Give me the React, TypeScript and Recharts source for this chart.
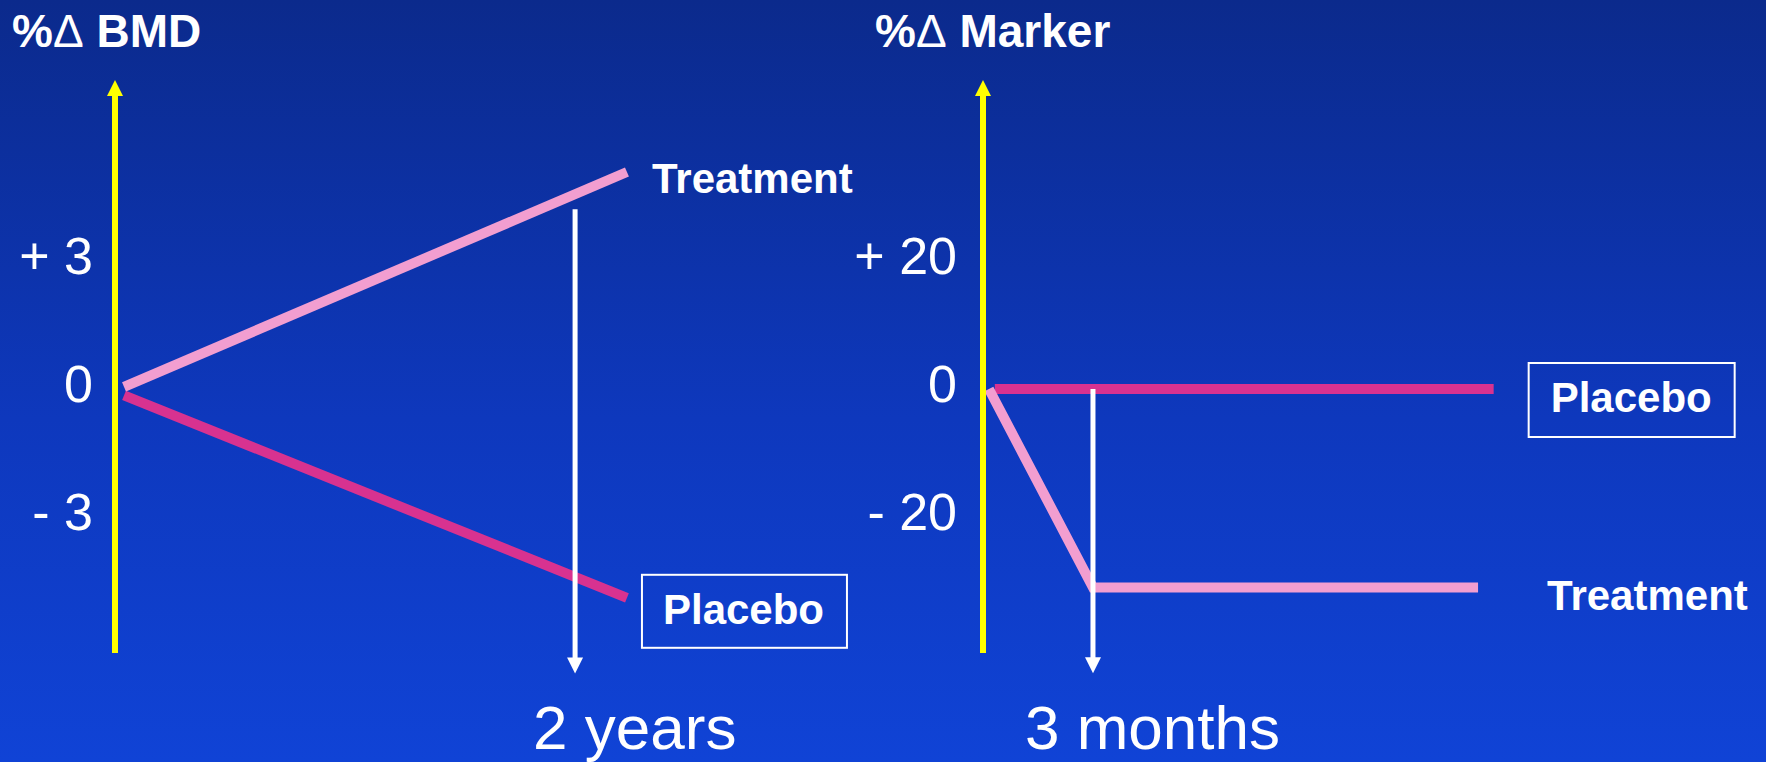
import { LineChart, Line, XAxis, YAxis, ReferenceLine, ReferenceDot } from "recharts";

// ---- %Δ BMD panel (time in years) ----
const bmdTreatment = [
  { t: 0, v: 0.05 },
  { t: 2.23, v: 5.07 },
];
const bmdPlacebo = [
  { t: 0, v: -0.15 },
  { t: 2.23, v: -4.88 },
];
const bmdYTicks = [-3, 0, 3];
const bmdXTicks = [2];
const bmdXLabels = ["2 years"];
const bmdArrow = [4.2, -6.65]; // white arrow at t = 2, from -> to

// ---- %Δ Marker panel (time in months) ----
const markerTreatment = [
  { t: 0, v: 0 },
  { t: 3, v: -31 },
  { t: 14.1, v: -31 },
];
const markerPlacebo = [
  { t: 0.17, v: 0 },
  { t: 14.55, v: 0 },
];
const markerYTicks = [-20, 0, 20];
const markerXTicks = [3];
const markerXLabels = ["3 months"];
const markerArrow = [0, -44.4];

const FONT = '"Liberation Sans", Arial, Helvetica, sans-serif';
const YELLOW = "#ffff00";
const PINK = "#f29ed0";
const MAGENTA = "#d83290";

const signed = (v: number) => (v > 0 ? `+ ${v}` : v < 0 ? `- ${-v}` : "0");

const axisArrow = (p: any) => (
  <g>
    <line x1={p.x1} y1={p.y1} x2={p.x2} y2={p.y2 + 14} stroke={YELLOW} strokeWidth={6} />
    <polygon points={`${p.x2 - 8},${p.y2 + 16} ${p.x2 + 8},${p.y2 + 16} ${p.x2},${p.y2}`} fill={YELLOW} />
  </g>
);

const downArrow = (p: any) => (
  <g>
    <line x1={p.x1} y1={p.y1} x2={p.x2} y2={p.y2 - 13} stroke="#fff" strokeWidth={5} />
    <polygon points={`${p.x2 - 8},${p.y2 - 16} ${p.x2 + 8},${p.y2 - 16} ${p.x2},${p.y2}`} fill="#fff" />
  </g>
);

type Box = { dx: number; dy: number; w: number; h: number };

const endTag = (text: string, dx: number, dy: number, box?: Box) => (p: any) => (
  <g>
    {box && (
      <rect x={p.cx + box.dx} y={p.cy + box.dy} width={box.w} height={box.h} fill="none" stroke="#fff" strokeWidth={2} />
    )}
    <text x={p.cx + dx} y={p.cy + dy} fill="#fff" fontSize={42} fontWeight="bold" fontFamily={FONT}>
      {text}
    </text>
  </g>
);

interface PanelProps {
  left: number;
  width: number;
  axisWidth: number;
  tickGap: number;
  xDomain: [number, number];
  yDomain: [number, number];
  yTicks: number[];
  xTicks: number[];
  xLabels: string[];
  xLabelDx: number;
  arrow: number[];
  treatment: { t: number; v: number }[];
  placebo: { t: number; v: number }[];
  treatmentTag: (p: any) => any;
  placeboTag: (p: any) => any;
}

function Panel(props: PanelProps) {
  const { xDomain, yDomain, treatment, placebo, xTicks, arrow } = props;
  const tEnd = treatment[treatment.length - 1];
  const pEnd = placebo[placebo.length - 1];
  return (
    <div style={{ position: "absolute", left: props.left, top: 0 }}>
      <LineChart width={props.width} height={762} margin={{ top: 80, right: 0, bottom: 0, left: 0 }}>
        <XAxis
          type="number"
          dataKey="t"
          domain={xDomain}
          allowDataOverflow
          ticks={xTicks}
          interval={0}
          axisLine={false}
          tickLine={false}
          tickSize={0}
          tickMargin={0}
          height={109}
          tick={(p: any) => (
            <text x={p.x + props.xLabelDx} y={p.y + 96} fill="#fff" fontSize={62} fontFamily={FONT}>
              {props.xLabels[xTicks.indexOf(p.payload.value)]}
            </text>
          )}
        />
        <YAxis
          type="number"
          domain={yDomain}
          allowDataOverflow
          ticks={props.yTicks}
          interval={0}
          axisLine={false}
          tickLine={false}
          tickSize={0}
          tickMargin={props.tickGap}
          width={props.axisWidth}
          tick={(p: any) => (
            <text x={p.x} y={p.y + 13} textAnchor="end" fill="#fff" fontSize={52} fontFamily={FONT}>
              {signed(p.payload.value)}
            </text>
          )}
        />
        <Line data={placebo} dataKey="v" stroke={MAGENTA} strokeWidth={10} dot={false} activeDot={false} isAnimationActive={false} />
        <Line data={treatment} dataKey="v" stroke={PINK} strokeWidth={10} dot={false} activeDot={false} isAnimationActive={false} />
        <ReferenceLine
          segment={[
            { x: xDomain[0], y: yDomain[0] },
            { x: xDomain[0], y: yDomain[1] },
          ]}
          ifOverflow="visible"
          shape={axisArrow}
        />
        <ReferenceLine
          segment={[
            { x: xTicks[0], y: arrow[0] },
            { x: xTicks[0], y: arrow[1] },
          ]}
          ifOverflow="visible"
          shape={downArrow}
        />
        <ReferenceDot x={tEnd.t} y={tEnd.v} r={0} ifOverflow="visible" shape={props.treatmentTag} />
        <ReferenceDot x={pEnd.t} y={pEnd.v} r={0} ifOverflow="visible" shape={props.placeboTag} />
      </LineChart>
    </div>
  );
}

const titleStyle = {
  position: "absolute" as const,
  top: 8,
  fontSize: 46,
  lineHeight: "46px",
  fontWeight: "bold" as const,
  color: "#fff",
  whiteSpace: "nowrap" as const,
  fontFamily: FONT,
};

export default function App() {
  return (
    <div
      style={{
        position: "absolute",
        left: 0,
        top: 0,
        width: 1766,
        height: 762,
        overflow: "hidden",
        background: "linear-gradient(180deg, #0b2a8c 0%, #0e38bd 55%, #1043d6 100%)",
      }}
    >
      <Panel
        left={0}
        width={880}
        axisWidth={115}
        tickGap={22}
        xDomain={[-0.04, 3.352]}
        yDomain={[-6.17, 7.22]}
        yTicks={bmdYTicks}
        xTicks={bmdXTicks}
        xLabels={bmdXLabels}
        xLabelDx={-42}
        arrow={bmdArrow}
        treatment={bmdTreatment}
        placebo={bmdPlacebo}
        treatmentTag={endTag("Treatment", 25, 21)}
        placeboTag={endTag("Placebo", 36, 26, { dx: 15, dy: -23, w: 205, h: 73 })}
      />
      <Panel
        left={760}
        width={1006}
        axisWidth={223}
        tickGap={26}
        xDomain={[-0.17, 22.4]}
        yDomain={[-41.25, 48.28]}
        yTicks={markerYTicks}
        xTicks={markerXTicks}
        xLabels={markerXLabels}
        xLabelDx={-68}
        arrow={markerArrow}
        treatment={markerTreatment}
        placebo={markerPlacebo}
        treatmentTag={endTag("Treatment", 69, 23)}
        placeboTag={endTag("Placebo", 57, 23, { dx: 35, dy: -26, w: 206, h: 74 })}
      />
      <div style={{ ...titleStyle, left: 12 }}>
        %<span style={{ fontWeight: "normal" }}>Δ</span> BMD
      </div>
      <div style={{ ...titleStyle, left: 875 }}>
        %<span style={{ fontWeight: "normal" }}>Δ</span> Marker
      </div>
    </div>
  );
}
